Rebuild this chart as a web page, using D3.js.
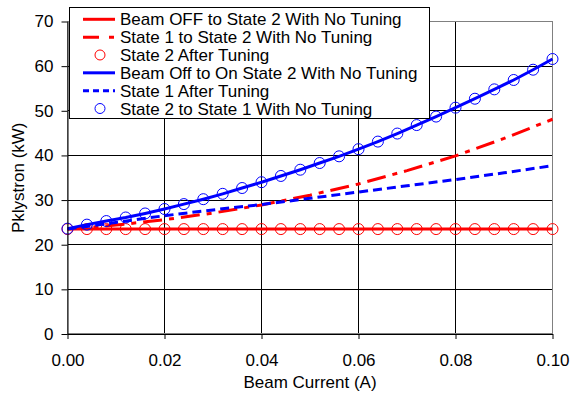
<!DOCTYPE html>
<html>
<head>
<meta charset="utf-8">
<script src="https://cdn.jsdelivr.net/npm/d3@7"></script>
<style>
  body { margin: 0; background: #fff; }
  svg text { font-family: "Liberation Sans", Arial, sans-serif; font-size: 17px; fill: #000; }
</style>
</head>
<body>
<div id="chart"></div>
<script>
// beam current (A), marker positions
var current = [0, 0.004, 0.008, 0.012, 0.016, 0.02, 0.024, 0.028, 0.032, 0.036, 0.04, 0.044, 0.048,
               0.052, 0.056, 0.06, 0.064, 0.068, 0.072, 0.076, 0.08, 0.084, 0.088, 0.092, 0.096, 0.1];
var beamOffState2 = [23.5, 23.5, 23.5, 23.5, 23.5, 23.5, 23.5, 23.5, 23.5, 23.5, 23.5, 23.5, 23.5,
                     23.5, 23.5, 23.5, 23.5, 23.5, 23.5, 23.5, 23.5, 23.5, 23.5, 23.5, 23.5, 23.5];
var state2Tuned = [23.5, 23.5, 23.5, 23.5, 23.5, 23.5, 23.5, 23.5, 23.5, 23.5, 23.5, 23.5, 23.5,
                   23.5, 23.5, 23.5, 23.5, 23.5, 23.5, 23.5, 23.5, 23.5, 23.5, 23.5, 23.5, 23.5];
var beamOffOnState2 = [23.6, 24.5, 25.3, 26.1, 27.0, 28.0, 29.1, 30.2, 31.4, 32.7, 34.0, 35.4, 36.8,
                       38.3, 39.8, 41.4, 43.1, 44.9, 46.8, 48.7, 50.7, 52.7, 54.8, 56.9, 59.2, 61.6];
var state2To1 = [23.6, 24.5, 25.3, 26.1, 27.0, 28.0, 29.1, 30.2, 31.4, 32.7, 34.0, 35.4, 36.8,
                 38.3, 39.8, 41.4, 43.1, 44.9, 46.8, 48.7, 50.7, 52.7, 54.8, 56.9, 59.2, 61.6];

// coarser series
var current2 = [0, 0.01, 0.02, 0.03, 0.04, 0.05, 0.06, 0.07, 0.08, 0.09, 0.1];
var state1To2 = [23.5, 24.4, 25.6, 27.1, 28.9, 31.1, 33.6, 36.6, 39.9, 43.8, 48.1];
var state1Tuned = [23.5, 25.0, 26.5, 27.8, 29.0, 30.4, 31.8, 33.2, 34.6, 36.1, 37.7];

var xTicks = [0, 0.02, 0.04, 0.06, 0.08, 0.1];
var yTicks = [0, 10, 20, 30, 40, 50, 60, 70];

var legendLabels = ["Beam OFF to State 2 With No Tuning", "State 1 to State 2 With No Tuning",
                    "State 2 After Tuning", "Beam Off to On State 2 With No Tuning",
                    "State 1 After Tuning", "State 2 to State 1 With No Tuning"];

var width = 570, height = 395;
var pLeft = 67.5, pRight = 552.5, pTop = 21.5, pBottom = 334;

var svg = d3.select("#chart").append("svg")
    .attr("width", width).attr("height", height);

var x = d3.scaleLinear().domain([0, 0.1]).range([pLeft, pRight]);
var y = d3.scaleLinear().domain([0, 70]).range([pBottom, pTop]);

// grid
svg.append("g").selectAll("line").data(yTicks.slice(1)).enter().append("line")
    .attr("x1", pLeft).attr("x2", pRight)
    .attr("y1", d => y(d)).attr("y2", d => y(d))
    .attr("stroke", "#000").attr("shape-rendering", "crispEdges");
svg.append("g").selectAll("line").data(xTicks.slice(1)).enter().append("line")
    .attr("y1", pTop).attr("y2", pBottom)
    .attr("x1", d => x(d)).attr("x2", d => x(d))
    .attr("stroke", "#000").attr("shape-rendering", "crispEdges");
svg.append("rect")
    .attr("x", pLeft).attr("y", pTop).attr("width", pRight - pLeft).attr("height", pBottom - pTop)
    .attr("fill", "none").attr("stroke", "#808080").attr("stroke-width", 1.5)
    .attr("shape-rendering", "crispEdges");

var line = d3.line().x(d => x(d[0])).y(d => y(d[1]));
function pairs(xs, ys) { return xs.map((v, i) => [v, ys[i]]); }

function drawLine(xs, ys, color, dash, w) {
  svg.append("path").datum(pairs(xs, ys))
    .attr("d", line).attr("fill", "none")
    .attr("stroke", color).attr("stroke-width", w)
    .attr("stroke-dasharray", dash);
}
function drawCircles(xs, ys, color) {
  svg.append("g").selectAll("circle").data(pairs(xs, ys)).enter().append("circle")
    .attr("cx", d => x(d[0])).attr("cy", d => y(d[1])).attr("r", 5.5)
    .attr("fill", "none").attr("stroke", color).attr("stroke-width", 1);
}

drawLine(current, beamOffState2, "#ff0000", null, 3);
drawLine(current2, state1To2, "#ff0000", "19,7,5,7", 3);
drawCircles(current, state2Tuned, "#ff0000");
drawLine(current, beamOffOnState2, "#0000ff", null, 3);
drawLine(current2, state1Tuned, "#0000ff", "9,5", 3);
drawCircles(current, state2To1, "#0000ff");

// axes
svg.append("g").attr("transform", "translate(0," + pBottom + ")")
    .call(d3.axisBottom(x).tickValues(xTicks).tickFormat(d3.format(".2f"))
      .tickSize(5).tickSizeOuter(0).tickPadding(15));
svg.append("g").attr("transform", "translate(" + pLeft + ",0)")
    .call(d3.axisLeft(y).tickValues(yTicks).tickSize(6).tickSizeOuter(0).tickPadding(8));
svg.selectAll(".domain, .tick line").attr("stroke", "#000");
svg.selectAll(".tick text").attr("font-size", null).attr("font-family", null);
d3.selectAll("g[font-size]").attr("font-size", null).attr("font-family", null);

svg.append("text").attr("x", (pLeft + pRight) / 2).attr("y", 388)
    .attr("text-anchor", "middle").text("Beam Current (A)");
svg.append("text").attr("transform", "translate(23.5," + ((pTop + pBottom) / 2) + ") rotate(-90)")
    .attr("text-anchor", "middle").text("Pklystron (kW)");

// legend
var legend = svg.append("g");
legend.append("rect").attr("x", 69.5).attr("y", 7.5).attr("width", 360).attr("height", 111)
    .attr("fill", "#fff").attr("stroke", "#000").attr("stroke-width", 1);
var legendStyle = [
  { color: "#ff0000", dash: null, kind: "line" },
  { color: "#ff0000", dash: "16,10,5,10", kind: "line" },
  { color: "#ff0000", dash: null, kind: "circle" },
  { color: "#0000ff", dash: null, kind: "line" },
  { color: "#0000ff", dash: "6,4", kind: "line" },
  { color: "#0000ff", dash: null, kind: "circle" }
];
var rowY = d3.scaleLinear().domain([0, 5]).range([19.3, 108.5]);
legendLabels.forEach(function (lab, i) {
  var s = legendStyle[i], cy = rowY(i);
  if (s.kind === "line") {
    legend.append("line").attr("x1", 83).attr("x2", 115).attr("y1", cy).attr("y2", cy)
      .attr("stroke", s.color).attr("stroke-width", 3).attr("stroke-dasharray", s.dash);
  } else {
    legend.append("circle").attr("cx", 100).attr("cy", cy).attr("r", 5)
      .attr("fill", "none").attr("stroke", s.color).attr("stroke-width", 1);
  }
  legend.append("text").attr("x", 120).attr("y", cy + 6).text(lab);
});
</script>
</body>
</html>
